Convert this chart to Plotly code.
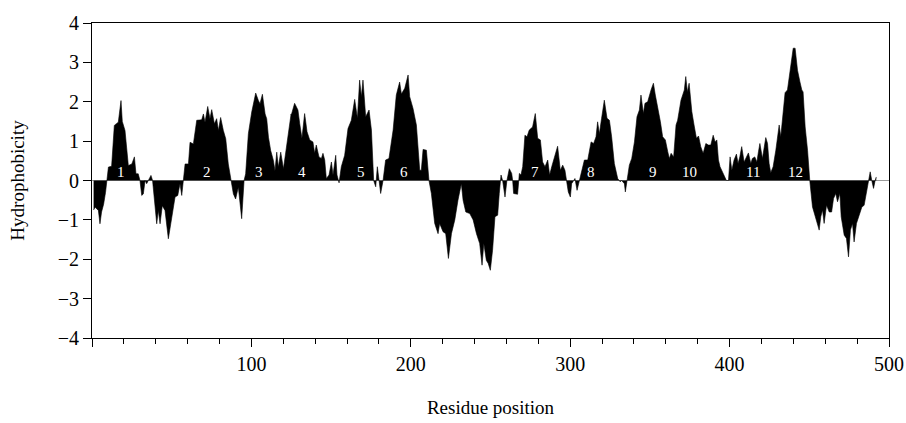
import plotly.graph_objects as go

residue = [
    1, 2, 4, 5, 6, 7.3, 8.5, 9.4, 10.3, 12.3, 14, 15.5, 16.5, 18.2, 19, 20.7, 21.7, 22.8, 25, 26.6,
    27.6, 29, 30.1, 31.2, 32.2, 33.3, 34.3, 35.3, 37, 38, 39.5, 40.6, 41.6, 42.7, 44.1, 45.8, 47.9, 50,
    52.1, 53.8, 55.2, 56.3, 57.3, 58.4, 60.5, 61.5, 63.6, 65.7, 68.8, 69.9, 70.9, 72.6, 74, 75.1, 76.8,
    78.2, 79.3, 80.7, 82.4, 83.9, 85.5, 87.2, 88.7, 90.1, 91.8, 93.9, 95.4, 96.4, 98.1, 100.2, 102.7,
    104.4, 105.4, 106.9, 108.6, 109.6, 110.7, 112.1, 113.8, 114.8, 115.9, 116.9, 118.4, 120.1, 123.2,
    124.9,
    125, 127.1, 129.2, 130.3, 131.7, 133.4, 134.9, 136.6, 138.6, 139.7, 140.7, 142.4, 143.9, 144.9,
    146, 147, 148.7, 150.2, 151.2, 152.9, 153.7, 155, 156.4, 158.5, 160.6, 162.7, 164.8, 166.5, 167.9,
    169, 170, 171.7, 173.8, 175.3, 176.7, 178, 179, 180.1, 181.1, 182.6, 184.2, 186.3, 188.9, 190.9,
    193, 194.1, 196.2, 198.3, 199.3, 201.4, 203.5, 205.6, 206.6, 207.7, 209.8, 211.4, 212.9, 215,
    217.1, 218.1, 220.2, 221.9, 223.6, 225.5, 227.6, 229.6, 231.7, 232.8, 234.5, 237, 239.1, 241.2,
    243.2, 244.7, 245.8, 247.4,
    248.5, 249.9, 251.3, 252.8, 254.5, 255.5, 256.6, 257.6, 259.1, 260.3, 261.8, 263.3, 263.9, 264.5,
    267, 268.1, 269.1, 270.2, 271.6, 272.9, 274.3, 276.4, 278.1, 279.6, 281.3, 282.7, 284.2, 285.9,
    287.1, 288.4, 290, 292.1, 293.8, 295.3, 296.7, 297.6, 298.8, 300.1, 300.9, 302.2, 303, 304.3,
    305.7, 307.2, 308.9, 311, 313.1, 314.7, 316.2, 317.2, 318.3, 319.7, 321.4, 323.1, 324.6, 326,
    327.7, 329.8, 331.3, 332.3, 334, 334.6, 335.6, 337.1, 338.6, 340.3, 341.9, 343.4, 344.4, 345.9,
    346.9, 348.6, 350.7, 352.2, 353.4, 354.9, 356.6, 358, 359.7, 361.2, 362.2, 363.3, 364.9, 366.4,
    367.4, 369.5, 371.6,
    372.5, 373.5, 374.6, 376.3, 377.7, 379.2, 380.5, 381.9, 383.4, 385.1, 386.7, 388.2, 389.7, 390.9,
    392, 393, 394, 395.5, 397.2, 398, 399.3, 400.3, 401.4, 402.8, 404.3, 405.3, 406.4, 407.6, 409.1,
    410.6, 411.8, 413.3, 414.3, 415.8, 417.1, 418.1, 419, 420.6, 422.7, 423.8, 424.8, 425.8, 427.3,
    429, 431.1, 432.1, 433.6, 434.8, 436.3, 437.4, 439, 439.9, 441.1, 442.6, 444.1, 445.3, 446.1,
    447.4, 448.9, 450.3, 452, 453.5, 454.7, 456.2, 457.2, 458.3, 459.3, 460.8, 462.5, 464, 465.2,
    466.6, 467.7, 469.2, 470, 471.9, 473.3, 474.6, 475.8, 477.1, 478.1, 479.6, 481.3, 483, 484.4,
    485.9, 487.1, 488.2, 489.2, 490.3, 491.3, 492,
]

hydrophobicity = [
    -0.75, -0.68, -0.76, -1.1, -0.8, -0.6, -0.3, 0, 0.34, 0.36, 1.4, 1.45, 1.48, 2.03, 1.5, 1.27, 0.85,
    0.38, 0.42, 0.6, 0.17, 0.17, 0, -0.38, -0.34, 0, -0.08, 0, 0.13, 0, -0.6, -1.1, -0.76, -1.1, -0.64,
    -0.76, -1.48, -0.93, -0.42, -0.38, -0.08, -0.38, 0, 0.42, 0.42, 0.97, 0.93, 1.53, 1.54, 1.69, 1.48,
    1.88, 1.57, 1.8, 1.44, 1.57, 1.27, 1.6, 1.27, 1.06, 0.42, 0, -0.34, -0.47, -0.17, -0.97, 0, 0.17,
    1.19, 1.74, 2.22, 2.03, 1.95, 2.19, 1.69, 1.57, 1.1, 0.76, 0.51, 0.25, 0.72, 0.34, 0.72, 0.3, 1.14,
    1.69,
    1.66, 1.96, 1.79, 1.45, 1.07, 1.7, 1.24, 1.03, 0.98, 0.69, 0.9, 0.6, 0.56, 0.69, 0.52, 0.05, 0.14,
    0.47, 0.14, 0.64, 0.14, -0.06, 0.35, 0.64, 1.32, 1.53, 2.06, 1.58, 2.55, 2.13, 2.55, 1.62, 1.79,
    1.28, 0, -0.16, 0.35, 0, -0.33, 0, 0.52, 0.56, 1.28, 2.17, 2.5, 2.2, 2.34, 2.68, 2.13, 1.83, 1.41,
    0.26, 0.26, 0.79, 0.77, 0, -0.33, -1.09, -1.35, -1.09, -1.3, -1.35, -1.98, -1.35, -1.0, -0.5,
    -0.08, -0.5, -0.8, -0.84, -1.0, -1.35, -1.6, -2.15, -1.6, -2.03,
    -2.1, -2.28, -1.77, -0.92, -0.88, -0.33, 0.14, 0, -0.42, 0, 0.3, 0.18, 0, -0.33, -0.35, 0.18, 0.14,
    0.35, 1.15, 1.11, 1.28, 1.36, 1.7, 1.07, 1.03, 0.47, 0.35, 0.52, 0.14, 0.35, 0.6, 0.87, 0.26, 0.39,
    0.26, 0, -0.29, -0.42, -0.08, 0, 0.05, -0.25, 0, 0.26, 0.52, 0.52, 0.98, 0.94, 1.11, 1.49, 1.19,
    1.58, 2.04, 1.58, 1.53, 1.11, 0.43, 0.05, -0.03, 0, -0.08, -0.29, 0, 0.39, 0.56, 0.98, 1.62, 1.79,
    2.17, 1.7, 1.96, 2.0, 2.3, 2.47, 2.17, 1.87, 1.49, 1.11, 1.03, 0.73, 0.56, 0.69, 0.6, 1.41, 1.53,
    2.04, 2.3,
    2.64, 2.25, 2.47, 1.75, 1.41, 1.07, 1.13, 0.86, 0.69, 0.94, 0.9, 0.9, 1.15, 0.98, 1.03, 0.52, 0.35,
    0.22, 0.03, 0, 0, 0.6, 0.26, 0.52, 0.67, 0.43, 0.6, 0.86, 0.47, 0.58, 0.7, 0.43, 0.56, 0.6, 0.47,
    0.73, 0.94, 0.56, 1.09, 0.94, 0.43, 0.2, 0.35, 0.77, 1.41, 1.11, 1.79, 2.23, 2.3, 2.64, 3.06, 3.36,
    3.36, 2.8, 2.51, 2.3, 2.25, 1.36, 0.77, 0, -0.67, -0.88, -1.05, -1.26, -0.92, -0.75, -1.09, -0.63,
    -0.8, -0.8, -0.46, -0.33, -0.54, -0.33, -0.92, -1.39, -1.47, -1.94, -1.26, -1.09, -1.56, -1.09,
    -0.88, -0.67, -0.63, -0.33, 0, 0.22, 0, -0.2, 0, 0.09,
]

helix_labels = ["1", "2", "3", "4", "5", "6", "7", "8", "9", "10", "11", "12"]
helix_centers = [18, 72, 105, 131.5, 168.5, 196, 278, 313, 352, 375, 414.5, 441.5]
label_level = 0.22

x_tickvals = [0, 100, 200, 300, 400, 500]
x_ticktext = ["", "100", "200", "300", "400", "500"]
y_tickvals = [-4, -3, -2, -1, 0, 1, 2, 3, 4]
y_ticktext = ["\u22124", "\u22123", "\u22122", "\u22121", "0", "1", "2", "3", "4"]

FONT = "Liberation Serif"

fig = go.Figure()
fig.add_trace(go.Scatter(
    x=residue, y=hydrophobicity, mode="lines",
    line=dict(color="black", width=0.6),
    fill="tozeroy", fillcolor="black",
    hoverinfo="x+y", showlegend=False,
))

for lab, xc in zip(helix_labels, helix_centers):
    fig.add_annotation(x=xc, y=label_level, text=lab, showarrow=False,
                       font=dict(family=FONT, size=15, color="#ffffff"),
                       xanchor="center", yanchor="middle")

axis_common = dict(
    showline=True, linecolor="black", linewidth=1, mirror=True,
    ticks="outside", tickcolor="black", tickwidth=1, automargin=False,
    showgrid=False, tickfont=dict(family=FONT, size=20, color="black"),
)

fig.update_xaxes(
    range=[0, 500], tickvals=x_tickvals, ticktext=x_ticktext, ticklen=8,
    minor=dict(dtick=20, tick0=0, ticks="outside", ticklen=5, tickcolor="black", tickwidth=1),
    zeroline=False,
    title=dict(text="Residue position", font=dict(family=FONT, size=19, color="black"), standoff=26),
    **axis_common,
)
fig.update_yaxes(
    range=[-4, 4], tickvals=y_tickvals, ticktext=y_ticktext, ticklen=8,
    zeroline=True, zerolinecolor="#9a9a9a", zerolinewidth=1,
    title=dict(text="Hydrophobicity", font=dict(family=FONT, size=19, color="black"), standoff=28),
    **axis_common,
)

fig.update_layout(
    width=906, height=423,
    margin=dict(l=92, r=17, t=23, b=85),
    plot_bgcolor="white", paper_bgcolor="white",
    font=dict(family=FONT, color="black"),
)

# remove the page's default body margin so the figure fills the window exactly
fig.write_html(
    "out.html",
    config={"displayModeBar": False},
    post_script="document.body.style.margin='0';document.body.style.overflow='hidden';",
)
